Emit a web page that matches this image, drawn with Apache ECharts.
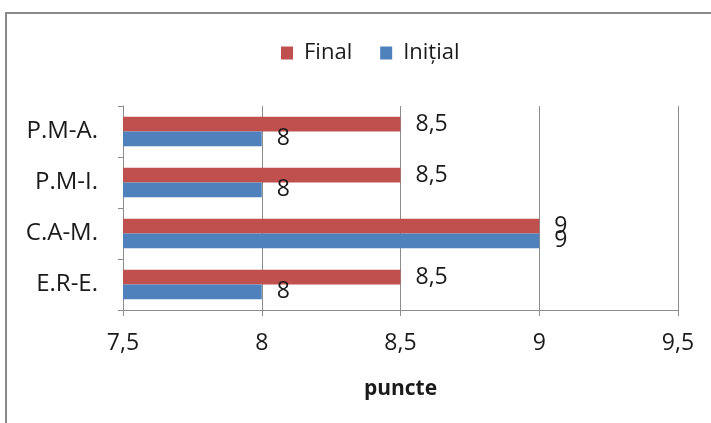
<!DOCTYPE html>
<html>
<head>
<meta charset="utf-8">
<script src="https://cdn.jsdelivr.net/npm/echarts@6/dist/echarts.min.js"></script>
<style>
  html, body { margin: 0; padding: 0; background: #fff; }
  #chart { width: 711px; height: 423px; }
</style>
</head>
<body>
<div id="chart"></div>
<script>
// Categories listed bottom to top along the vertical axis
const categories = ['E.R-E.', 'C.A-M.', 'P.M-I.', 'P.M-A.'];
const finalValues = [8.5, 9, 8.5, 8.5];
const initialValues = [8, 9, 8, 8];
const xTicks = [7.5, 8, 8.5, 9, 9.5];
const legendNames = ['Final', 'Inițial'];
const axisTitle = 'puncte';

const FONT = '"Open Sans", "Noto Sans", sans-serif';
const fmt = v => String(v).replace('.', ',');

const chart = echarts.init(document.getElementById('chart'), null, { renderer: 'canvas' });

const labelStyle = {
  show: true,
  position: 'right',
  distance: 15,
  color: '#1a1a1a',
  fontFamily: FONT,
  fontSize: 23,
  formatter: p => fmt(p.value)
};

chart.setOption({
  animation: false,
  backgroundColor: '#fff',
  graphic: [{
    type: 'rect',
    shape: { x: 6, y: 13, width: 900, height: 600 },
    style: { fill: 'none', stroke: '#8a8a8a', lineWidth: 2 },
    silent: true
  }],
  legend: {
    data: legendNames,
    top: 37,
    left: 276,
    itemWidth: 12,
    itemHeight: 13,
    itemGap: 28,
    icon: 'rect',
    textStyle: { fontFamily: FONT, fontSize: 22, color: '#1a1a1a', padding: [0, 0, 0, 6] }
  },
  grid: { left: 123, right: 33, top: 106, bottom: 113 },
  xAxis: {
    type: 'value',
    min: xTicks[0],
    max: xTicks[xTicks.length - 1],
    interval: 0.5,
    name: axisTitle,
    nameLocation: 'middle',
    nameGap: 69,
    nameTextStyle: { fontFamily: FONT, fontSize: 21, fontWeight: 'bold', color: '#1a1a1a' },
    axisLine: { show: true, lineStyle: { color: '#8c8c8c', width: 1 } },
    axisTick: { show: true, length: 6, lineStyle: { color: '#8c8c8c' } },
    splitLine: { show: true, lineStyle: { color: '#8c8c8c', width: 1 } },
    axisLabel: {
      margin: 22,
      fontFamily: FONT, fontSize: 23, color: '#1a1a1a',
      formatter: v => fmt(v)
    }
  },
  yAxis: {
    type: 'category',
    data: categories,
    axisLine: { show: true, lineStyle: { color: '#8c8c8c', width: 1 } },
    axisTick: { show: true, length: 5, lineStyle: { color: '#8c8c8c' } },
    axisLabel: { margin: 25, fontFamily: FONT, fontSize: 24, color: '#1a1a1a' },
    splitLine: { show: false }
  },
  series: [
    {
      name: 'Final',
      type: 'bar',
      data: finalValues,
      barGap: '0%',
      barCategoryGap: '42%',
      itemStyle: { color: '#C0504D' },
      label: labelStyle
    },
    {
      name: 'Inițial',
      type: 'bar',
      data: initialValues,
      itemStyle: { color: '#4F81BD' },
      label: labelStyle
    }
  ]
});
</script>
</body>
</html>
